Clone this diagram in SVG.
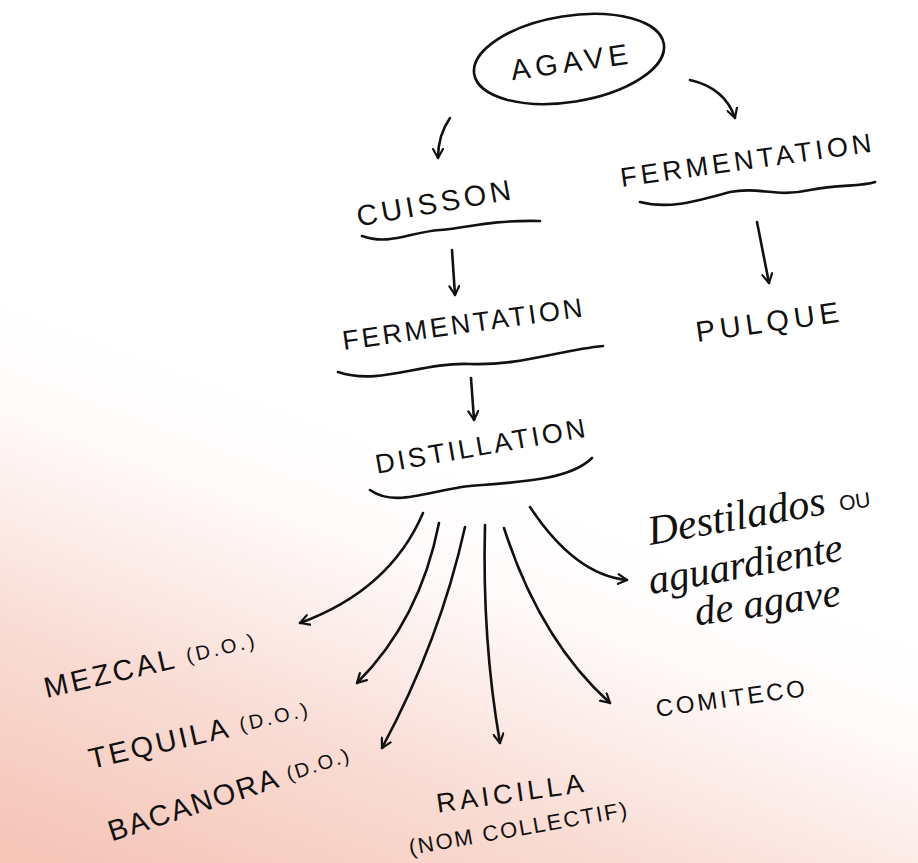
<svg xmlns="http://www.w3.org/2000/svg" width="918" height="863" viewBox="0 0 918 863">
<defs>
<linearGradient id="bg" gradientUnits="userSpaceOnUse" x1="150" y1="900" x2="330" y2="420">
<stop offset="0" stop-color="#f5c5b7"/>
<stop offset="0.4" stop-color="#f9dcd4"/>
<stop offset="0.8" stop-color="#fffafa"/>
<stop offset="1" stop-color="#ffffff"/>
</linearGradient>
<marker id="ah" viewBox="0 0 12 12" refX="10" refY="6" markerWidth="12" markerHeight="12" markerUnits="userSpaceOnUse" orient="auto">
<path d="M1,1 L10,6 L1,11" fill="none" stroke="#111" stroke-width="2.2" stroke-linecap="round" stroke-linejoin="round"/>
</marker>
<style>
.t{font-family:"Liberation Sans","DejaVu Sans",sans-serif;fill:#111;text-anchor:middle;dominant-baseline:middle}
.s{font-family:"Liberation Serif","DejaVu Serif",serif;font-style:italic;fill:#111;text-anchor:middle;dominant-baseline:middle}
.ln{fill:none;stroke:#111;stroke-width:2.6;stroke-linecap:round}
.ar{fill:none;stroke:#111;stroke-width:2.6;stroke-linecap:round;marker-end:url(#ah)}
</style>
</defs>
<rect width="918" height="863" fill="url(#bg)"/>

<g id="agave">
<ellipse cx="569" cy="59" rx="96" ry="43" transform="rotate(-9 569 59)" class="ln"/>
<text class="t" x="572" y="64" font-size="29" letter-spacing="5" transform="rotate(-8 572 64)">AGAVE</text>
</g>

<g id="cuisson">
<text class="t" x="436" y="205" font-size="29" letter-spacing="4" transform="rotate(-10 436 205)">CUISSON</text>
<path class="ln" d="M362,236 C390,246 410,232 440,230 C470,228 485,220 540,221"/>
</g>

<g id="fermentation1">
<text class="t" x="464" y="326" font-size="27" letter-spacing="3" transform="rotate(-8 464 326)">FERMENTATION</text>
<path class="ln" d="M338,372 C380,386 420,362 470,364 C520,366 560,350 603,346"/>
</g>

<g id="distillation">
<text class="t" x="482" y="448" font-size="27" letter-spacing="3" transform="rotate(-10 482 448)">DISTILLATION</text>
<path class="ln" d="M370,490 C395,508 430,490 470,486 C520,482 570,480 592,458"/>
</g>

<g id="fermentation2">
<text class="t" x="748" y="162" font-size="27" letter-spacing="4" transform="rotate(-8 748 162)">FERMENTATION</text>
<path class="ln" d="M640,202 C670,210 700,200 730,192 C760,186 775,198 810,190 C840,184 860,187 875,182"/>
</g>

<g id="pulque">
<text class="t" x="770" y="324" font-size="29" letter-spacing="5" transform="rotate(-8 770 324)">PULQUE</text>
</g>

<g id="mezcal">
<text class="t" x="151" y="666" font-size="29" letter-spacing="3" transform="rotate(-13 151 666)">MEZCAL <tspan font-size="20">(D.O.)</tspan></text>
</g>

<g id="tequila">
<text class="t" x="200" y="736" font-size="29" letter-spacing="3" transform="rotate(-13 200 736)">TEQUILA <tspan font-size="20">(D.O.)</tspan></text>
</g>

<g id="bacanora">
<text class="t" x="230" y="795" font-size="29" letter-spacing="2" transform="rotate(-18 230 795)">BACANORA <tspan font-size="20">(D.O.)</tspan></text>
</g>

<g id="raicilla">
<text class="t" x="512" y="795" font-size="27" letter-spacing="4" transform="rotate(-8 512 795)">RAICILLA</text>
<text class="t" x="519" y="830" font-size="22" letter-spacing="2" transform="rotate(-10 519 830)">(NOM COLLECTIF)</text>
</g>

<g id="comiteco">
<text class="t" x="732" y="700" font-size="24" letter-spacing="3" transform="rotate(-8 732 700)">COMITECO</text>
</g>

<g id="destilados">
<text class="s" x="737" y="520" font-size="42" transform="rotate(-10 737 520)">Destilados</text>
<text class="t" x="855" y="503" font-size="21" transform="rotate(-8 855 503)">OU</text>
<text class="s" x="746" y="568" font-size="41" transform="rotate(-10 746 568)">aguardiente</text>
<text class="s" x="768" y="606" font-size="41" transform="rotate(-8 768 606)">de agave</text>
</g>

<g id="connectors">
<path class="ar" d="M450,118 Q438,135 438,158"/>
<path class="ar" d="M690,80 Q725,88 735,118"/>
<path class="ar" d="M452,250 L455,295"/>
<path class="ar" d="M471,378 L474,420"/>
<path class="ar" d="M757,222 L769,283"/>
<path class="ar" d="M423,513 Q390,590 300,623"/>
<path class="ar" d="M439,523 Q420,620 357,683"/>
<path class="ar" d="M465,527 Q440,640 382,748"/>
<path class="ar" d="M485,525 Q482,640 500,743"/>
<path class="ar" d="M504,528 Q540,640 610,703"/>
<path class="ar" d="M530,507 Q575,575 627,580"/>
</g>
</svg>
